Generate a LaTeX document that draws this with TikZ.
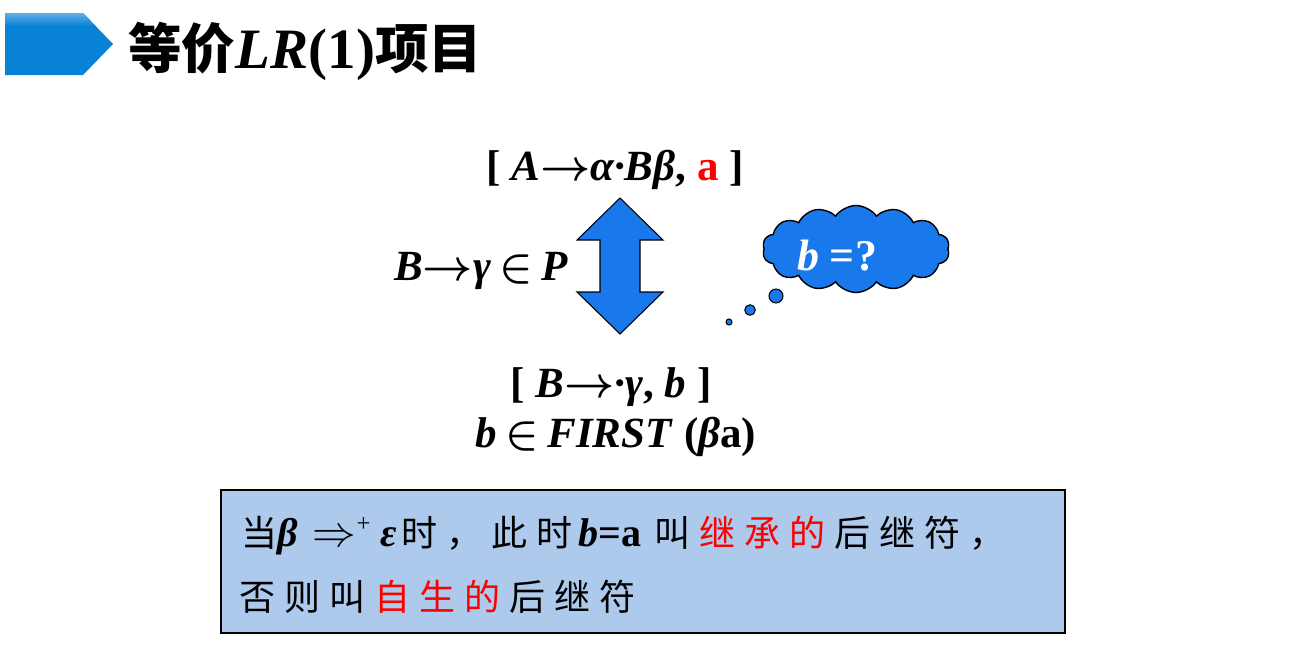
\documentclass[tikz,border=0pt]{standalone}
\usepackage{fontspec}
\setmainfont{Liberation Serif}
\newfontfamily\cjk{Noto Sans CJK SC}
\usetikzlibrary{shapes.symbols}

\definecolor{titleblue}{RGB}{8,130,212}
\definecolor{titlelight}{RGB}{95,175,230}
\definecolor{arrowblue}{RGB}{25,120,235}
\definecolor{boxblue}{RGB}{173,202,237}

% one CJK character per cell of 45px
\makeatletter
\newcommand{\zh}[1]{{\fontsize{20.5}{24}\selectfont\mdseries\cjk
  \@tfor\zhchar:=#1\do{\makebox[0.9cm][l]{\zhchar}}}}
\makeatother
\newcommand{\bi}[1]{{\rmfamily\bfseries\itshape #1}}

\tikzset{
  formula/.style={anchor=base, inner sep=0pt,
    font=\fontsize{24.5}{28}\selectfont\bfseries\boldmath},
  noteline/.style={anchor=base west, inner sep=0pt,
    font=\fontsize{22.8}{26}\selectfont\bfseries},
  bubble/.style={circle, draw, fill=arrowblue, line width=0.6pt, inner sep=0pt}
}

\begin{document}
\begin{tikzpicture}[x=0.02cm, y=-0.02cm]
        \useasboundingbox (0,0) rectangle (1298,647);

        % Title bar
        \fill[titleblue] (5,13) -- (83,13) -- (113,44) -- (83,75) -- (5,75) -- cycle;
        \shade[top color=titlelight, bottom color=titleblue] (5,13) -- (83,13) -- (95.6,26) -- (5,26) -- cycle;
        \node[anchor=base west, inner sep=0pt, font=\fontsize{30.5}{34}\selectfont\bfseries] (title) at (128,68)
          {{\cjk 等价}{\fontsize{32.5}{34}\selectfont\textit{LR}(1)}{\cjk 项目}};

        % Define the items
        \node[formula] (itemA) at (615,180) {[ \textit{A}$\rightarrow$\textit{α·Bβ}, \textcolor{red}{a} ]};
        \node[formula] (prod) at (481,280) {\textit{B}$\rightarrow$\textit{γ}$\,\in\,$\textit{P}};
        \node[formula] (itemB) at (611,397) {[ \textit{B}$\rightarrow$\textit{·γ}, \textit{b} ]};
        \node[formula] (first) at (616,447) {\textit{b}$\,\in\,$\textit{FIRST} (\textit{β}a)};

        % Draw the double arrow
        \draw[fill=arrowblue, line width=0.6pt] (620,198) -- (663,240) -- (640,240) -- (640,292)
          -- (663,292) -- (620,334) -- (577,292) -- (600,292) -- (600,240) -- (577,240) -- cycle;

        % Thought cloud
        \node[cloud, draw, fill=arrowblue, line width=0.8pt, cloud puffs=14, cloud puff arc=110, aspect=2.2,
          minimum width=3.74cm, minimum height=1.74cm, inner sep=0pt] (thought) at (856,249) {};
        \node[anchor=base, inner sep=0pt, text=white, font=\fontsize{25}{28}\selectfont\bfseries] (ask) at (837,270)
          {\textit{b} =?};
        \node[bubble, minimum size=0.28cm] (bub1) at (776,296) {};
        \node[bubble, minimum size=0.21cm] (bub2) at (750,310) {};
        \node[bubble, minimum size=0.12cm] (bub3) at (729,322) {};

        % Note box
        \node[draw, fill=boxblue, line width=1.1pt, minimum width=16.88cm, minimum height=2.86cm,
          inner sep=0pt] (note) at (643,561.5) {};
        \node[noteline] (line1) at (241,546)
          {\zh{当}\hspace{-0.18cm}\bi{β}\hspace{0.3cm}{\fontsize{27}{28}\selectfont$\Rightarrow$}%
           \raisebox{0.3cm}{\fontsize{14}{16}\selectfont\mdseries +}\hspace{0.2cm}\bi{ε}\hspace{0.1cm}%
           \zh{时，此时}\hspace{-0.06cm}\bi{b}=a\hspace{0.25cm}\zh{叫}\textcolor{red}{\zh{继承的}}\zh{后继符，}};
        \node[noteline] (line2) at (239,610)
          {\zh{否则叫}\textcolor{red}{\zh{自生的}}\zh{后继符}};
    \end{tikzpicture}
\end{document}
